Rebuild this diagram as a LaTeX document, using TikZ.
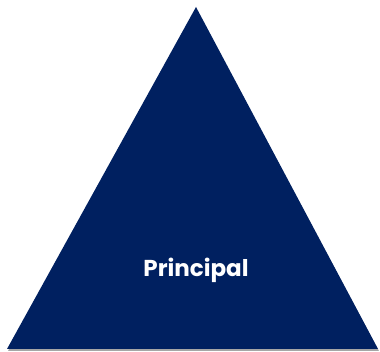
\documentclass[tikz,border=0pt]{standalone}
\usepackage{fontspec}
\setmainfont{Poppins}
\definecolor{navy}{HTML}{002060}

\begin{document}
\begin{tikzpicture}[x=1pt,y=1pt]
	\useasboundingbox (0,0) rectangle (380,352);
	%CORNERS
	\coordinate (top) at (196,345);
	\coordinate (left) at (7,3);
	\coordinate (right) at (378,3);

	%SHADOW
	\fill[black!35] ([xshift=1,yshift=-2]left) -- ([xshift=1,yshift=-2]right) -- ([yshift=-2]top) -- cycle;
	%TRIANGLE
	\fill[navy] (left)--(right)--(top)--cycle;

	%LABEL
	\node[text=white,font=\bfseries\fontsize{23}{26}\selectfont] (principal) at (196,82) {Principal};
\end{tikzpicture}
\end{document}
